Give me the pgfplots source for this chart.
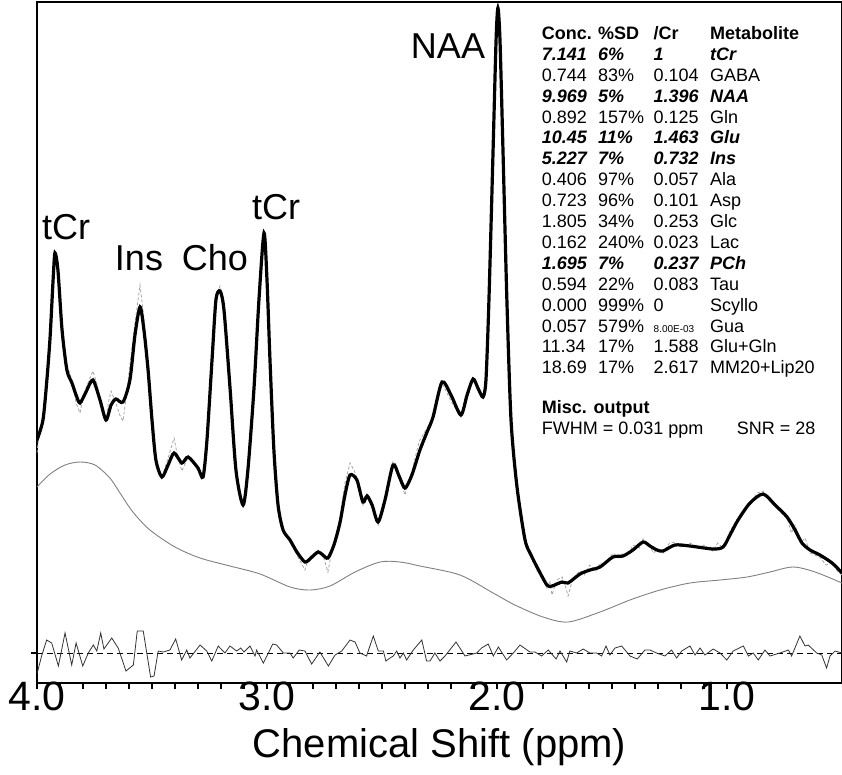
\documentclass[border=0pt]{standalone}
\usepackage{pgfplots}
\pgfplotsset{compat=1.18}
\usepackage{fontspec}
\setmainfont{Liberation Sans}
\newcommand{\tabfont}{\fontsize{18}{20}\selectfont}
\newcommand{\trow}[6]{%
  \node[anchor=base west,inner sep=0pt,font=\tabfont] at (504.7pt,#1pt) {#6#2};
  \node[anchor=base west,inner sep=0pt,font=\tabfont] at (561pt,#1pt) {#6#3};
  \node[anchor=base west,inner sep=0pt,font=\tabfont] at (616.5pt,#1pt) {#6#4};
  \node[anchor=base west,inner sep=0pt,font=\tabfont] at (673pt,#1pt) {#6#5};}
\begin{document}
\begin{tikzpicture}
\useasboundingbox (-37pt,-91pt) rectangle (805pt,683pt);
\begin{axis}[
  at={(0pt,0pt)}, anchor=south west,
  scale only axis, width=805pt, height=681pt,
  xmin=0.5, xmax=4, ymin=0, ymax=681, x dir=reverse,
  xtick={1,2,3,4}, xticklabels={{1.0},{2.0},{3.0},{4.0}},
  minor x tick num=9,
  ytick={30}, yticklabels={},
  tick align=outside, xtick pos=bottom, ytick pos=left,
  major tick length=6pt, minor tick length=6pt,
  tick style={black, line width=1.6pt},
  axis line style={line width=2.6pt},
  x tick label style={font=\fontsize{41}{44}\selectfont, anchor=base, yshift=-21pt},
  xlabel={Chemical Shift (ppm)},
  xlabel style={font=\fontsize{40}{44}\selectfont, at={(axis description cs:0.5,0)}, anchor=base, yshift=-74pt},
]
% baseline
\addplot[gray, line width=0.9pt, smooth] coordinates {
(4.000,196) (3.943,209) (3.878,218) (3.813,221) (3.748,218) (3.683,205) (3.639,190) (3.583,171)
(3.509,153) (3.400,136) (3.291,125) (3.161,117) (3.030,109) (2.900,96) (2.813,93) (2.726,97)
(2.617,111) (2.509,121) (2.422,121) (2.335,117) (2.161,108) (2.017,90) (1.922,78) (1.800,66)
(1.691,61) (1.552,71) (1.422,83) (1.291,93) (1.161,100) (1.030,103) (0.913,106) (0.813,111)
(0.713,116) (0.617,111) (0.500,100)};
% data
\addplot[gray!70, line width=0.8pt, densely dashed] coordinates {
(4.000,230) (3.990,250) (3.974,265) (3.957,300) (3.943,348) (3.930,405) (3.922,433) (3.909,415)
(3.891,352) (3.870,318) (3.848,303) (3.830,280) (3.813,270) (3.800,285) (3.787,295) (3.757,312)
(3.740,300) (3.726,280) (3.700,262) (3.690,280) (3.678,292) (3.657,280) (3.640,268) (3.626,262)
(3.610,290) (3.596,318) (3.574,360) (3.552,398) (3.535,365) (3.517,318) (3.500,265) (3.483,225)
(3.470,210) (3.457,206) (3.430,225) (3.404,245) (3.390,228) (3.370,212) (3.343,226) (3.320,222)
(3.300,213) (3.278,206) (3.261,243) (3.239,325) (3.222,388) (3.204,397) (3.187,378) (3.161,298)
(3.135,212) (3.104,176) (3.083,213) (3.057,295) (3.035,385) (3.013,453) (3.000,405) (2.987,325)
(2.970,235) (2.952,178) (2.930,150) (2.900,145) (2.870,128) (2.835,113) (2.820,125) (2.809,127)
(2.778,133) (2.757,128) (2.735,111) (2.720,130) (2.709,140) (2.683,165) (2.661,200) (2.639,220)
(2.620,212) (2.609,205) (2.583,178) (2.565,190) (2.543,180) (2.517,158) (2.500,170) (2.487,185)
(2.452,222) (2.426,206) (2.400,188) (2.370,212) (2.340,240) (2.335,243) (2.304,255) (2.278,265)
(2.250,298) (2.239,300) (2.200,282) (2.157,266) (2.130,290) (2.104,306) (2.083,293) (2.061,287)
(2.048,305) (2.035,385) (2.017,536) (2.004,648) (1.996,680) (1.987,645) (1.974,535) (1.957,383)
(1.939,262) (1.913,196) (1.878,140) (1.852,130) (1.826,112) (1.800,108) (1.783,95) (1.770,102)
(1.761,88) (1.740,103) (1.717,106) (1.700,95) (1.691,87) (1.670,105) (1.639,112) (1.620,108)
(1.596,118) (1.570,112) (1.552,120) (1.530,118) (1.496,130) (1.470,125) (1.452,130) (1.430,128)
(1.409,138) (1.380,135) (1.365,144) (1.335,137) (1.320,130) (1.304,133) (1.278,130) (1.250,140)
(1.226,141) (1.200,136) (1.161,140) (1.120,135) (1.100,138) (1.061,132) (1.040,140) (1.017,135)
(0.987,152) (0.952,165) (0.920,175) (0.900,178) (0.870,190) (0.843,192) (0.820,185) (0.791,180)
(0.765,170) (0.739,165) (0.720,150) (0.704,158) (0.690,148) (0.674,142) (0.660,145) (0.639,130)
(0.620,128) (0.596,126) (0.570,118) (0.543,120) (0.520,112) (0.500,108)};
% fit
\addplot[black, line width=3.2pt, smooth, tension=0.45] coordinates {
(4.000,243) (3.974,263) (3.957,303) (3.943,346) (3.930,403) (3.922,430) (3.909,413) (3.891,353)
(3.870,313) (3.848,300) (3.830,288) (3.813,280) (3.787,291) (3.757,303) (3.726,283) (3.700,263)
(3.678,278) (3.657,284) (3.626,281) (3.596,303) (3.574,348) (3.552,376) (3.535,353) (3.517,313)
(3.500,263) (3.483,223) (3.457,206) (3.430,218) (3.404,230) (3.370,220) (3.343,226) (3.300,215)
(3.278,206) (3.261,243) (3.239,323) (3.222,383) (3.204,392) (3.187,373) (3.161,296) (3.135,213)
(3.104,178) (3.083,213) (3.057,293) (3.035,383) (3.013,450) (3.000,403) (2.987,323) (2.970,233)
(2.952,178) (2.930,153) (2.900,143) (2.870,131) (2.835,121) (2.809,125) (2.778,131) (2.757,128)
(2.735,125) (2.709,138) (2.683,160) (2.661,188) (2.639,208) (2.609,203) (2.583,181) (2.565,187)
(2.543,178) (2.517,161) (2.487,183) (2.452,218) (2.426,207) (2.400,195) (2.370,208) (2.335,233)
(2.304,251) (2.278,266) (2.239,301) (2.200,288) (2.157,268) (2.130,288) (2.104,304) (2.083,295)
(2.061,286) (2.048,303) (2.035,383) (2.017,533) (2.004,643) (1.996,675) (1.987,643) (1.974,533)
(1.957,383) (1.939,263) (1.913,196) (1.878,143) (1.852,128) (1.826,116) (1.783,98) (1.761,97)
(1.717,101) (1.691,100) (1.639,109) (1.596,113) (1.552,116) (1.496,126) (1.452,127) (1.409,133)
(1.365,141) (1.335,137) (1.304,133) (1.278,132) (1.226,138) (1.161,137) (1.061,134) (1.017,136)
(0.987,148) (0.952,163) (0.900,180) (0.843,189) (0.791,178) (0.739,166) (0.704,153) (0.674,140)
(0.639,133) (0.596,128) (0.543,120) (0.500,110)};
% residual zero line
\addplot[black, line width=0.8pt, dash pattern=on 6pt off 4pt] coordinates {(4,30) (0.5,30)};
% residual
\addplot[black!80, line width=0.8pt] coordinates {
(3.999,10) (3.980,27) (3.958,43) (3.936,40) (3.907,17) (3.878,50) (3.849,18) (3.830,40)
(3.801,17) (3.777,30) (3.755,38) (3.740,32) (3.723,50) (3.709,34) (3.675,45) (3.647,35)
(3.613,12) (3.581,18) (3.564,52) (3.538,52) (3.506,6) (3.491,7) (3.473,32) (3.451,31)
(3.422,33) (3.397,44) (3.371,23) (3.349,33) (3.335,25) (3.291,38) (3.262,32) (3.240,22)
(3.212,37) (3.183,30) (3.161,37) (3.132,32) (3.114,35) (3.100,31) (3.074,37) (3.052,27)
(3.045,33) (3.016,20) (2.994,30) (2.975,39) (2.958,38) (2.929,30) (2.900,30) (2.886,25)
(2.860,33) (2.835,32) (2.806,19) (2.770,31) (2.733,17) (2.704,28) (2.675,32) (2.639,43)
(2.617,41) (2.596,30) (2.567,27) (2.538,47) (2.516,32) (2.494,32) (2.483,22) (2.465,25)
(2.451,27) (2.436,32) (2.422,25) (2.407,30) (2.393,23) (2.364,33) (2.327,43) (2.306,22)
(2.291,22) (2.270,30) (2.248,22) (2.226,27) (2.178,41) (2.139,27) (2.088,30) (2.067,35)
(2.038,39) (2.016,27) (1.994,36) (1.958,23) (1.929,30) (1.900,38) (1.857,31) (1.835,31)
(1.806,27) (1.777,33) (1.743,24) (1.726,32) (1.697,21) (1.683,32) (1.654,30) (1.625,34)
(1.596,30) (1.567,30) (1.545,27) (1.526,37) (1.509,28) (1.487,35) (1.458,37) (1.436,31)
(1.422,27) (1.390,24) (1.357,33) (1.335,33) (1.306,30) (1.270,27) (1.241,33) (1.219,25)
(1.197,32) (1.161,37) (1.139,28) (1.117,35) (1.096,28) (1.060,34) (1.030,30) (1.001,23)
(0.973,32) (0.929,37) (0.907,27) (0.886,30) (0.864,23) (0.835,33) (0.813,27) (0.770,30)
(0.733,33) (0.719,27) (0.683,47) (0.661,37) (0.647,38) (0.610,30) (0.588,28) (0.567,15)
(0.552,27) (0.530,32) (0.501,30)};
\end{axis}
% peak labels
\begin{scope}[every node/.style={font=\fontsize{36}{40}\selectfont, inner sep=0pt, anchor=base}]
\node at (29pt,443pt) {tCr};
\node at (102pt,412pt) {Ins};
\node at (178pt,412pt) {Cho};
\node at (239pt,463pt) {tCr};
\node at (411pt,624pt) {NAA};
\end{scope}
% results table
\trow{643.5}{Conc.}{\%SD}{/Cr}{Metabolite}{\bfseries}
\trow{622.6}{7.141}{6\%}{1}{tCr}{\bfseries\itshape}
\trow{601.7}{0.744}{83\%}{0.104}{GABA}{}
\trow{580.8}{9.969}{5\%}{1.396}{NAA}{\bfseries\itshape}
\trow{559.9}{0.892}{157\%}{0.125}{Gln}{}
\trow{539.0}{10.45}{11\%}{1.463}{Glu}{\bfseries\itshape}
\trow{518.1}{5.227}{7\%}{0.732}{Ins}{\bfseries\itshape}
\trow{497.2}{0.406}{97\%}{0.057}{Ala}{}
\trow{476.3}{0.723}{96\%}{0.101}{Asp}{}
\trow{455.4}{1.805}{34\%}{0.253}{Glc}{}
\trow{434.5}{0.162}{240\%}{0.023}{Lac}{}
\trow{413.6}{1.695}{7\%}{0.237}{PCh}{\bfseries\itshape}
\trow{392.7}{0.594}{22\%}{0.083}{Tau}{}
\trow{371.8}{0.000}{999\%}{0}{Scyllo}{}
\trow{350.9}{0.057}{579\%}{{\fontsize{10}{12}\selectfont 8.00E-03}}{Gua}{}
\trow{330.0}{11.34}{17\%}{1.588}{Glu+Gln}{}
\trow{309.1}{18.69}{17\%}{2.617}{MM20+Lip20}{}
\node[anchor=base west,inner sep=0pt,font=\tabfont\bfseries] at (504.7pt,270pt) {Misc. output};
\node[anchor=base west,inner sep=0pt,font=\tabfont] at (504.7pt,249pt) {FWHM = 0.031 ppm};
\node[anchor=base west,inner sep=0pt,font=\tabfont] at (699.7pt,249pt) {SNR = 28};
\end{tikzpicture}
\end{document}
